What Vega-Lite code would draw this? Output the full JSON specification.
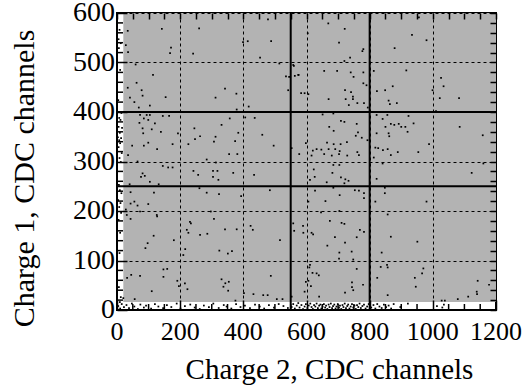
{
  "$schema": "https://vega.github.io/schema/vega-lite/v6.json",
  "width": 379,
  "height": 297,
  "autosize": "none",
  "padding": {"left": 117, "top": 13, "right": 30, "bottom": 77},
  "config": {
    "view": {"stroke": "black", "strokeWidth": 2},
    "font": "Liberation Serif"
  },
  "datasets": {
    "band": [{"x0": 20, "x1": 1200, "y0": 16, "y1": 600}],
    "vl": [{"v": 550}, {"v": 800}],
    "hl": [{"h": 250}, {"h": 400}],
    "xl": [{"t": 0}, {"t": 200}, {"t": 400}, {"t": 600}, {"t": 800}, {"t": 1000}, {"t": 1200}],
    "yl": [{"t": 0}, {"t": 100}, {"t": 200}, {"t": 300}, {"t": 400}, {"t": 500}, {"t": 600}],
    "mx": [{"m":50},{"m":100},{"m":150},{"m":250},{"m":300},{"m":350},{"m":450},{"m":500},{"m":550},{"m":650},{"m":700},{"m":750},{"m":850},{"m":900},{"m":950},{"m":1050},{"m":1100},{"m":1150}],
    "my": [{"m":20},{"m":40},{"m":60},{"m":80},{"m":120},{"m":140},{"m":160},{"m":180},{"m":220},{"m":240},{"m":260},{"m":280},{"m":320},{"m":340},{"m":360},{"m":380},{"m":420},{"m":440},{"m":460},{"m":480},{"m":520},{"m":540},{"m":560},{"m":580}],
    "pts": [
      {"c2":34,"c1":564},{"c2":142,"c1":568},{"c2":260,"c1":569},{"c2":28,"c1":535},{"c2":171,"c1":530},{"c2":168,"c1":519},{"c2":241,"c1":518},{"c2":35,"c1":521},{"c2":399,"c1":541},{"c2":414,"c1":543},{"c2":488,"c1":543},{"c2":453,"c1":510},{"c2":478,"c1":587},{"c2":59,"c1":496},{"c2":114,"c1":475},{"c2":62,"c1":459},{"c2":34,"c1":449},{"c2":78,"c1":444},{"c2":81,"c1":433},{"c2":41,"c1":429},{"c2":55,"c1":420},{"c2":69,"c1":409},{"c2":104,"c1":413},{"c2":154,"c1":430},{"c2":312,"c1":429},{"c2":342,"c1":447},{"c2":378,"c1":437},{"c2":379,"c1":405},{"c2":417,"c1":411},{"c2":542,"c1":444},{"c2":545,"c1":471},{"c2":535,"c1":472},{"c2":574,"c1":475},{"c2":514,"c1":498},{"c2":560,"c1":493},
      {"c2":73,"c1":394},{"c2":94,"c1":394},{"c2":104,"c1":394},{"c2":145,"c1":392},{"c2":165,"c1":392},{"c2":85,"c1":387},{"c2":99,"c1":384},{"c2":71,"c1":378},{"c2":81,"c1":367},{"c2":110,"c1":365},{"c2":120,"c1":377},{"c2":139,"c1":360},{"c2":83,"c1":357},{"c2":127,"c1":325},{"c2":99,"c1":338},{"c2":85,"c1":332},{"c2":48,"c1":332},{"c2":35,"c1":313},{"c2":245,"c1":367},{"c2":263,"c1":351},{"c2":247,"c1":345},{"c2":226,"c1":335},{"c2":312,"c1":350},{"c2":307,"c1":340},{"c2":331,"c1":374},{"c2":357,"c1":387},{"c2":355,"c1":315},{"c2":381,"c1":315},{"c2":384,"c1":358},{"c2":374,"c1":341},{"c2":406,"c1":389},{"c2":436,"c1":388},{"c2":460,"c1":354},{"c2":496,"c1":332},{"c2":553,"c1":327},{"c2":577,"c1":315},{"c2":176,"c1":335},{"c2":193,"c1":357},{"c2":284,"c1":304},
      {"c2":669,"c1":579},{"c2":721,"c1":568},{"c2":703,"c1":540},{"c2":780,"c1":527},{"c2":777,"c1":523},{"c2":738,"c1":510},{"c2":720,"c1":503},{"c2":604,"c1":559},{"c2":956,"c1":591},{"c2":934,"c1":556},{"c2":980,"c1":545},{"c2":879,"c1":529},{"c2":558,"c1":495},{"c2":563,"c1":473},{"c2":575,"c1":475},{"c2":656,"c1":483},{"c2":697,"c1":483},{"c2":740,"c1":480},{"c2":749,"c1":471},{"c2":780,"c1":480},{"c2":780,"c1":458},{"c2":790,"c1":454},{"c2":722,"c1":444},{"c2":741,"c1":440},{"c2":583,"c1":438},{"c2":594,"c1":438},{"c2":606,"c1":436},{"c2":670,"c1":426},{"c2":724,"c1":426},{"c2":747,"c1":431},{"c2":747,"c1":426},{"c2":761,"c1":418},{"c2":782,"c1":418},{"c2":734,"c1":414},{"c2":794,"c1":409},{"c2":813,"c1":483},{"c2":916,"c1":484},{"c2":873,"c1":452},{"c2":849,"c1":444},{"c2":823,"c1":442},{"c2":860,"c1":423},{"c2":864,"c1":416},{"c2":886,"c1":418},{"c2":1026,"c1":469},{"c2":1034,"c1":452},{"c2":1022,"c1":428},{"c2":1083,"c1":428},{"c2":999,"c1":444},{"c2":1010,"c1":402},
      {"c2":651,"c1":395},{"c2":685,"c1":397},{"c2":709,"c1":382},{"c2":720,"c1":380},{"c2":672,"c1":370},{"c2":686,"c1":362},{"c2":759,"c1":376},{"c2":763,"c1":359},{"c2":756,"c1":352},{"c2":775,"c1":348},{"c2":793,"c1":343},{"c2":728,"c1":339},{"c2":708,"c1":335},{"c2":686,"c1":335},{"c2":665,"c1":338},{"c2":620,"c1":322},{"c2":632,"c1":325},{"c2":647,"c1":324},{"c2":670,"c1":325},{"c2":691,"c1":325},{"c2":705,"c1":321},{"c2":761,"c1":319},{"c2":766,"c1":313},{"c2":729,"c1":312},{"c2":703,"c1":315},{"c2":680,"c1":312},{"c2":656,"c1":315},{"c2":616,"c1":312},{"c2":598,"c1":337},{"c2":822,"c1":394},{"c2":856,"c1":394},{"c2":923,"c1":392},{"c2":841,"c1":386},{"c2":850,"c1":370},{"c2":867,"c1":376},{"c2":878,"c1":374},{"c2":892,"c1":376},{"c2":900,"c1":370},{"c2":913,"c1":370},{"c2":939,"c1":377},{"c2":822,"c1":357},{"c2":860,"c1":357},{"c2":862,"c1":351},{"c2":920,"c1":360},{"c2":818,"c1":328},{"c2":827,"c1":327},{"c2":842,"c1":323},{"c2":857,"c1":325},{"c2":889,"c1":319},{"c2":867,"c1":313},{"c2":813,"c1":308},{"c2":954,"c1":319},{"c2":988,"c1":335},{"c2":1085,"c1":370},{"c2":1158,"c1":353},
      {"c2":145,"c1":291},{"c2":162,"c1":288},{"c2":176,"c1":288},{"c2":65,"c1":300},{"c2":81,"c1":276},{"c2":88,"c1":271},{"c2":76,"c1":269},{"c2":104,"c1":259},{"c2":40,"c1":254},{"c2":132,"c1":254},{"c2":242,"c1":281},{"c2":257,"c1":273},{"c2":313,"c1":298},{"c2":304,"c1":281},{"c2":318,"c1":281},{"c2":304,"c1":269},{"c2":321,"c1":263},{"c2":368,"c1":277},{"c2":434,"c1":273},{"c2":261,"c1":246},{"c2":284,"c1":237},{"c2":323,"c1":234},{"c2":484,"c1":242},{"c2":393,"c1":230},{"c2":43,"c1":238},{"c2":117,"c1":237},{"c2":55,"c1":219},{"c2":43,"c1":215},{"c2":65,"c1":211},{"c2":99,"c1":214},{"c2":28,"c1":203},{"c2":73,"c1":199},{"c2":31,"c1":192},{"c2":43,"c1":184},{"c2":126,"c1":192},{"c2":127,"c1":189},{"c2":297,"c1":199},{"c2":307,"c1":184},{"c2":231,"c1":178},{"c2":234,"c1":175},{"c2":221,"c1":162},{"c2":226,"c1":156},{"c2":263,"c1":152},{"c2":286,"c1":154},{"c2":342,"c1":163},{"c2":379,"c1":163},{"c2":423,"c1":170},{"c2":430,"c1":162},{"c2":516,"c1":141},{"c2":116,"c1":150},{"c2":97,"c1":135},{"c2":90,"c1":125},{"c2":180,"c1":141},{"c2":216,"c1":123},{"c2":210,"c1":111},{"c2":324,"c1":120},{"c2":351,"c1":114},{"c2":364,"c1":119},{"c2":45,"c1":71},{"c2":32,"c1":65},{"c2":73,"c1":69},{"c2":147,"c1":82},{"c2":159,"c1":83},{"c2":147,"c1":67},{"c2":191,"c1":59},{"c2":196,"c1":48},{"c2":110,"c1":38},{"c2":215,"c1":54},{"c2":223,"c1":42},{"c2":331,"c1":62},{"c2":343,"c1":54},{"c2":354,"c1":57},{"c2":337,"c1":47},{"c2":352,"c1":39},{"c2":375,"c1":19},{"c2":487,"c1":69},{"c2":402,"c1":34},{"c2":432,"c1":32},{"c2":463,"c1":30},{"c2":477,"c1":30},{"c2":506,"c1":22},{"c2":524,"c1":22},{"c2":56,"c1":22},{"c2":20,"c1":24},
      {"c2":685,"c1":293},{"c2":704,"c1":293},{"c2":623,"c1":284},{"c2":682,"c1":277},{"c2":626,"c1":269},{"c2":709,"c1":268},{"c2":723,"c1":264},{"c2":733,"c1":261},{"c2":611,"c1":263},{"c2":664,"c1":258},{"c2":720,"c1":256},{"c2":841,"c1":296},{"c2":822,"c1":265},{"c2":1123,"c1":277},{"c2":1160,"c1":296},{"c2":685,"c1":247},{"c2":627,"c1":241},{"c2":753,"c1":242},{"c2":766,"c1":241},{"c2":705,"c1":232},{"c2":782,"c1":236},{"c2":660,"c1":220},{"c2":606,"c1":219},{"c2":782,"c1":226},{"c2":848,"c1":247},{"c2":848,"c1":236},{"c2":818,"c1":219},{"c2":980,"c1":219},{"c2":646,"c1":197},{"c2":704,"c1":200},{"c2":857,"c1":193},{"c2":674,"c1":180},{"c2":711,"c1":176},{"c2":720,"c1":174},{"c2":558,"c1":175},{"c2":589,"c1":170},{"c2":561,"c1":160},{"c2":590,"c1":156},{"c2":616,"c1":156},{"c2":621,"c1":153},{"c2":769,"c1":162},{"c2":782,"c1":158},{"c2":759,"c1":147},{"c2":690,"c1":147},{"c2":666,"c1":130},{"c2":722,"c1":136},{"c2":867,"c1":148},{"c2":951,"c1":138},{"c2":704,"c1":116},{"c2":743,"c1":118},{"c2":748,"c1":102},{"c2":838,"c1":116},{"c2":703,"c1":104},{"c2":611,"c1":91},{"c2":609,"c1":86},{"c2":619,"c1":75},{"c2":632,"c1":74},{"c2":639,"c1":70},{"c2":606,"c1":59},{"c2":614,"c1":48},{"c2":759,"c1":83},{"c2":744,"c1":56},{"c2":744,"c1":46},{"c2":779,"c1":51},{"c2":722,"c1":35},{"c2":748,"c1":40},{"c2":640,"c1":27},{"c2":835,"c1":87},{"c2":855,"c1":91},{"c2":857,"c1":86},{"c2":970,"c1":84},{"c2":966,"c1":74},{"c2":824,"c1":65},{"c2":943,"c1":65},{"c2":946,"c1":47},{"c2":857,"c1":30},{"c2":1142,"c1":59},{"c2":1139,"c1":37},{"c2":1140,"c1":32},{"c2":1112,"c1":27},{"c2":1079,"c1":22},{"c2":1038,"c1":19},{"c2":1028,"c1":19},{"c2":1178,"c1":51},{"c2":594,"c1":37},{"c2":598,"c1":57},{"c2":553,"c1":27},
      {"c2":8,"c1":566},{"c2":5,"c1":547},{"c2":12,"c1":539},{"c2":6,"c1":529},{"c2":10,"c1":485},{"c2":4,"c1":424},{"c2":14,"c1":398},{"c2":7,"c1":388},{"c2":11,"c1":384},{"c2":5,"c1":370},{"c2":16,"c1":368},{"c2":9,"c1":358},{"c2":3,"c1":349},{"c2":13,"c1":347},{"c2":7,"c1":343},{"c2":10,"c1":337},{"c2":5,"c1":329},{"c2":15,"c1":317},{"c2":8,"c1":307},{"c2":12,"c1":299},{"c2":6,"c1":253},{"c2":9,"c1":242},{"c2":14,"c1":236},{"c2":4,"c1":222},{"c2":11,"c1":216},{"c2":7,"c1":208},{"c2":13,"c1":196},{"c2":5,"c1":182},{"c2":10,"c1":156},{"c2":8,"c1":115},{"c2":6,"c1":46},{"c2":12,"c1":26},{"c2":9,"c1":16},
      {"c2":4,"c1":8},{"c2":10,"c1":3},{"c2":15,"c1":12},{"c2":22,"c1":6},{"c2":30,"c1":10},{"c2":38,"c1":4},{"c2":47,"c1":13},{"c2":55,"c1":7},{"c2":66,"c1":2},{"c2":74,"c1":11},{"c2":85,"c1":5},{"c2":92,"c1":9},{"c2":108,"c1":3},{"c2":120,"c1":12},{"c2":131,"c1":7},{"c2":146,"c1":4},{"c2":158,"c1":10},{"c2":172,"c1":6},{"c2":189,"c1":13},{"c2":201,"c1":3},{"c2":215,"c1":8},{"c2":232,"c1":11},{"c2":246,"c1":5},{"c2":262,"c1":2},{"c2":275,"c1":9},{"c2":291,"c1":6},{"c2":305,"c1":13},{"c2":322,"c1":4},{"c2":338,"c1":10},{"c2":347,"c1":7},{"c2":362,"c1":3},{"c2":377,"c1":12},{"c2":391,"c1":6},{"c2":405,"c1":9},{"c2":421,"c1":4},{"c2":437,"c1":11},{"c2":452,"c1":7},{"c2":466,"c1":3},{"c2":481,"c1":10},{"c2":497,"c1":5},{"c2":512,"c1":12},{"c2":527,"c1":8},{"c2":541,"c1":4},
      {"c2":553,"c1":6},{"c2":558,"c1":12},{"c2":563,"c1":3},{"c2":569,"c1":9},{"c2":574,"c1":14},{"c2":578,"c1":5},{"c2":584,"c1":10},{"c2":589,"c1":2},{"c2":594,"c1":7},{"c2":598,"c1":12},{"c2":603,"c1":4},{"c2":607,"c1":9},{"c2":612,"c1":13},{"c2":616,"c1":6},{"c2":620,"c1":2},{"c2":624,"c1":10},{"c2":628,"c1":7},{"c2":632,"c1":13},{"c2":636,"c1":4},{"c2":640,"c1":9},{"c2":644,"c1":11},{"c2":647,"c1":3},{"c2":651,"c1":7},{"c2":655,"c1":12},{"c2":659,"c1":5},{"c2":662,"c1":9},{"c2":666,"c1":2},{"c2":670,"c1":11},{"c2":673,"c1":6},{"c2":677,"c1":13},{"c2":681,"c1":4},{"c2":684,"c1":8},{"c2":688,"c1":11},{"c2":692,"c1":3},{"c2":695,"c1":7},{"c2":699,"c1":12},{"c2":703,"c1":5},{"c2":706,"c1":9},{"c2":710,"c1":2},{"c2":714,"c1":10},{"c2":717,"c1":6},{"c2":721,"c1":13},{"c2":725,"c1":4},{"c2":729,"c1":8},{"c2":732,"c1":11},{"c2":736,"c1":3},{"c2":740,"c1":7},{"c2":744,"c1":12},{"c2":748,"c1":5},{"c2":752,"c1":9},{"c2":756,"c1":2},{"c2":760,"c1":10},{"c2":764,"c1":6},{"c2":768,"c1":13},{"c2":772,"c1":4},{"c2":777,"c1":8},{"c2":782,"c1":11},{"c2":787,"c1":3},{"c2":792,"c1":7},{"c2":797,"c1":12},
      {"c2":805,"c1":5},{"c2":812,"c1":10},{"c2":818,"c1":3},{"c2":824,"c1":12},{"c2":831,"c1":7},{"c2":838,"c1":4},{"c2":845,"c1":11},{"c2":852,"c1":6},{"c2":860,"c1":9},{"c2":868,"c1":3},{"c2":876,"c1":12},{"c2":897,"c1":6},{"c2":921,"c1":13},{"c2":1013,"c1":8},{"c2":1030,"c1":5},{"c2":1035,"c1":11}
    ]
  },
  "layer": [
    {
      "data": {"name": "band"},
      "mark": {"type": "rect", "color": "#b3b3b3"},
      "encoding": {
        "x": {
          "field": "x0", "type": "quantitative",
          "scale": {"domain": [0, 1200], "nice": false},
          "axis": {
            "orient": "bottom", "zindex": 1,
            "values": [0,200,400,600,800,1000,1200],
            "labels": false,
            "domain": false,
            "tickColor": "black", "tickWidth": 1.5, "tickSize": -10,
            "grid": true, "gridColor": "black", "gridWidth": 1, "gridDash": [3, 3],
            "title": "Charge 2, CDC channels",
            "titleFont": "Liberation Serif",
            "titleFontSize": 29, "titleFontWeight": "normal", "titleColor": "black",
            "titleAnchor": null, "titleAlign": "center", "titleBaseline": "alphabetic",
            "titleX": 212, "titleY": 68
          }
        },
        "x2": {"field": "x1"},
        "y": {
          "field": "y0", "type": "quantitative",
          "scale": {"domain": [0, 600], "nice": false},
          "axis": {
            "orient": "left", "zindex": 1,
            "values": [0,100,200,300,400,500,600],
            "labels": false,
            "domain": false,
            "tickColor": "black", "tickWidth": 1.5, "tickSize": -10,
            "grid": true, "gridColor": "black", "gridWidth": 1, "gridDash": [3, 3],
            "title": "Charge 1, CDC channels",
            "titleFont": "Liberation Serif",
            "titleFontSize": 30, "titleFontWeight": "normal", "titleColor": "black",
            "titleAnchor": null, "titleAlign": "center", "titleBaseline": "alphabetic",
            "titleAngle": -90, "titleX": -84, "titleY": 165
          }
        },
        "y2": {"field": "y1"}
      }
    },
    {
      "data": {"name": "pts"},
      "mark": {"type": "square", "size": 3, "color": "black", "filled": true, "opacity": 1},
      "encoding": {
        "x": {
          "field": "c2", "type": "quantitative",
          "scale": {"domain": [0, 1200], "nice": false},
          "axis": {
            "orient": "top", "zindex": 1,
            "values": [0,50,100,150,200,250,300,350,400,450,500,550,600,650,700,750,800,850,900,950,1000,1050,1100,1150,1200],
            "labels": false, "domain": false, "grid": false, "title": null,
            "tickColor": "black", "tickWidth": 1.5, "tickSize": -6
          }
        },
        "y": {
          "field": "c1", "type": "quantitative",
          "scale": {"domain": [0, 600], "nice": false},
          "axis": {
            "orient": "right", "zindex": 1,
            "values": [0,20,40,60,80,100,120,140,160,180,200,220,240,260,280,300,320,340,360,380,400,420,440,460,480,500,520,540,560,580,600],
            "labels": false, "domain": false, "grid": false, "title": null,
            "tickColor": "black", "tickWidth": 1.5, "tickSize": -6
          }
        }
      }
    },
    {
      "data": {"name": "mx"},
      "mark": {"type": "tick", "orient": "vertical", "size": 12, "thickness": 1.5, "color": "black", "clip": true, "opacity": 1},
      "encoding": {
        "x": {"field": "m", "type": "quantitative", "scale": {"domain": [0, 1200], "nice": false}, "axis": null},
        "y": {"datum": 0, "type": "quantitative", "scale": {"domain": [0, 600], "nice": false}, "axis": null}
      }
    },
    {
      "data": {"name": "my"},
      "mark": {"type": "tick", "orient": "horizontal", "size": 12, "thickness": 1.5, "color": "black", "clip": true, "opacity": 1},
      "encoding": {
        "y": {"field": "m", "type": "quantitative", "scale": {"domain": [0, 600], "nice": false}, "axis": null},
        "x": {"datum": 0, "type": "quantitative", "scale": {"domain": [0, 1200], "nice": false}, "axis": null}
      }
    },
    {
      "data": {"name": "vl"},
      "mark": {"type": "rule", "color": "black", "strokeWidth": 2},
      "encoding": {
        "x": {"field": "v", "type": "quantitative", "scale": {"domain": [0, 1200], "nice": false}, "axis": null}
      }
    },
    {
      "data": {"name": "hl"},
      "mark": {"type": "rule", "color": "black", "strokeWidth": 2},
      "encoding": {
        "y": {"field": "h", "type": "quantitative", "scale": {"domain": [0, 600], "nice": false}, "axis": null}
      }
    },
    {
      "data": {"name": "xl"},
      "mark": {"type": "text", "font": "Liberation Serif", "fontSize": 26, "color": "black", "align": "center", "baseline": "top", "dy": 9},
      "encoding": {
        "x": {"field": "t", "type": "quantitative", "scale": {"domain": [0, 1200], "nice": false}, "axis": null},
        "y": {"datum": 0, "type": "quantitative", "scale": {"domain": [0, 600], "nice": false}, "axis": null},
        "text": {"field": "t", "type": "quantitative", "format": "d"}
      }
    },
    {
      "data": {"name": "yl"},
      "mark": {"type": "text", "font": "Liberation Serif", "fontSize": 28, "color": "black", "align": "right", "baseline": "middle", "dx": -2},
      "encoding": {
        "y": {"field": "t", "type": "quantitative", "scale": {"domain": [0, 600], "nice": false}, "axis": null},
        "x": {"datum": 0, "type": "quantitative", "scale": {"domain": [0, 1200], "nice": false}, "axis": null},
        "text": {"field": "t", "type": "quantitative", "format": "d"}
      }
    }
  ],
  "resolve": {"axis": {"x": "independent", "y": "independent"}}
}
